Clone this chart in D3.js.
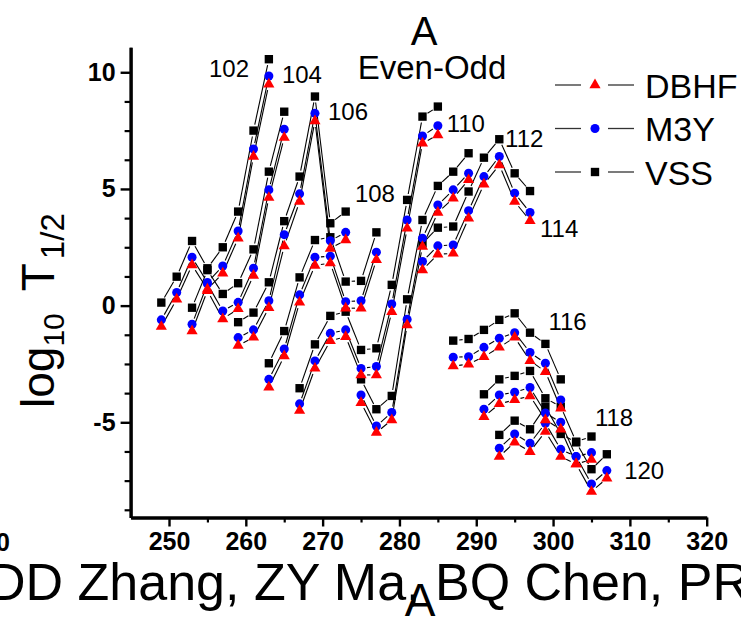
<!DOCTYPE html>
<html>
<head>
<meta charset="utf-8">
<script src="https://cdn.jsdelivr.net/npm/d3@7"></script>
<style>
  body { margin: 0; background: #fff; }
  svg { display: block; font-family: Arial, "Liberation Sans", sans-serif; }
</style>
</head>
<body>
<svg id="chart" width="741" height="620"></svg>
<script>
// Alpha-decay half-lives, log10 T1/2 (s), of even-odd nuclei for three interactions.
// One isotopic chain per proton number; mass numbers run in steps of 2 from firstA.
const protonZ = [102, 104, 106, 108, 110, 112, 114, 116, 118, 120];
const firstA  = [249, 253, 259, 263, 267, 275, 283, 287, 291, 293];

const vss = [
  [0.13, 1.24, 2.77, 1.60, 2.50, 4.03, 7.50, 10.56],
  [-0.09, 1.52, 0.50, 0.96, 2.41, 5.74, 8.31],
  [-0.71, -0.30, 1.00, 3.62, 5.53, 8.96, 3.53, 4.03],
  [-2.47, -1.09, 1.21, 2.81, 2.93, 1.03, 1.06, 3.14],
  [-3.54, -1.66, -0.44, -0.26, -1.90, -1.83, 0.89, 4.53, 8.10, 8.53],
  [-3.16, -4.44, -3.87, 0.27, 3.67, 5.13, 5.74, 6.53],
  [2.67, 3.34, 3.39, 4.89, 6.34, 7.13, 5.67, 4.91],
  [-1.50, -1.43, -1.04, -0.61, -0.33, -1.16, -1.64, -3.16],
  [-3.80, -3.16, -3.01, -2.80, -3.97, -4.33, -5.83, -5.61],
  [-5.54, -4.93, -5.30, -4.33, -5.50, -5.86, -7.01, -6.37]
];
const m3y = [
  [-0.61, 0.56, 2.07, 0.99, 1.70, 3.20, 6.71, 9.84],
  [-0.80, 0.93, -0.23, 0.14, 1.60, 4.96, 7.56],
  [-1.37, -1.04, 0.21, 3.04, 4.79, 8.24, 2.78, 3.14],
  [-3.16, -1.86, 0.46, 2.07, 2.12, 0.17, 0.21, 2.29],
  [-4.21, -2.37, -1.19, -1.04, -2.69, -2.61, 0.07, 3.67, 7.27, 7.71],
  [-3.83, -5.16, -4.58, -0.59, 2.89, 4.31, 4.96, 5.67],
  [1.89, 2.56, 2.60, 4.07, 5.53, 6.39, 4.82, 3.99],
  [-2.21, -2.19, -1.79, -1.40, -1.16, -2.01, -2.47, -4.04],
  [-4.44, -3.83, -3.71, -3.51, -4.60, -5.00, -6.47, -6.30],
  [-6.11, -5.50, -5.90, -5.04, -6.16, -6.47, -7.64, -7.07]
];
const dbhf = [
  [-0.90, 0.27, 1.74, 0.70, 1.39, 2.89, 6.39, 9.49],
  [-1.09, 0.64, -0.57, -0.14, 1.29, 4.63, 7.20],
  [-1.71, -1.36, -0.09, 2.55, 4.46, 7.91, 2.45, 2.81],
  [-3.50, -2.16, 0.14, 1.72, 1.82, -0.11, -0.11, 1.96],
  [-4.50, -2.69, -1.51, -1.33, -2.97, -2.97, -0.26, 3.31, 6.96, 7.31],
  [-4.16, -5.44, -4.90, -0.83, 2.53, 3.99, 4.60, 5.39],
  [1.53, 2.20, 2.24, 3.74, 5.20, 6.03, 4.46, 3.64],
  [-2.59, -2.51, -2.19, -1.79, -1.36, -2.36, -2.83, -4.40],
  [-4.76, -4.21, -4.04, -3.87, -4.90, -5.30, -6.79, -6.60],
  [-6.47, -5.86, -6.26, -5.40, -6.47, -6.79, -7.97, -7.40]
];

const xTicks = [250, 260, 270, 280, 290, 300, 310, 320];
const yTicks = [-5, 0, 5, 10];
const legendNames = ["DBHF", "M3Y", "VSS"];

// Chain labels, anchored (left, baseline) in data units.
const labelAnchorA = [255.2, 264.7, 270.7, 274.2, 286.15, 293.75, 298.3, 299.4, 305.45, 309.25];
const labelAnchorT = [9.80, 9.54, 7.96, 4.44, 7.44, 6.80, 2.94, -1.04, -5.16, -7.43];

const svg = d3.select("#chart");

const x = d3.scaleLinear().domain([245, 320]).range([130.6, 706.7]);
const y = d3.scaleLinear().domain([-9.08, 11.07]).range([517.5, 47.3]);

const styles = {
  VSS:  { shape: d3.symbolSquare,   size: 70, fill: "#000000" },
  M3Y:  { shape: d3.symbolCircle,   size: 64, fill: "#0000ff" },
  DBHF: { shape: d3.symbolTriangle, size: 54, fill: "#ff0000" }
};

const seriesList = [
  { name: "VSS",  values: vss },
  { name: "M3Y",  values: m3y },
  { name: "DBHF", values: dbhf }
];

const tickFont = "Arial, 'Liberation Sans', sans-serif";
const plain = d => String(d);

// ---------- axes ----------
const yMinor = d3.range(-8.75, 11, 1.25).filter(v => yTicks.indexOf(v) < 0);
const xMinor = d3.range(255, 320, 10);

const gy = svg.append("g").attr("transform", `translate(${x(245)},0)`);
gy.call(d3.axisLeft(y).tickValues(yMinor).tickSize(6).tickSizeOuter(0).tickFormat(""));
gy.selectAll(".tick line").attr("stroke-width", 2.2);
const gy2 = svg.append("g").attr("transform", `translate(${x(245)},0)`);
gy2.call(d3.axisLeft(y).tickValues(yTicks).tickSize(10).tickPadding(5).tickSizeOuter(0).tickFormat(plain));
gy2.selectAll(".tick line").attr("stroke-width", 2.4);
gy2.selectAll("text").attr("font-size", 25).attr("font-weight", "bold").attr("font-family", tickFont);

const gx = svg.append("g").attr("transform", `translate(0,${y(-9.08)})`);
gx.call(d3.axisBottom(x).tickValues(xMinor).tickSize(5).tickSizeOuter(0).tickFormat(""));
gx.selectAll(".tick line").attr("stroke-width", 2.2);
const gx2 = svg.append("g").attr("transform", `translate(0,${y(-9.08)})`);
gx2.call(d3.axisBottom(x).tickValues(xTicks).tickSize(9).tickPadding(6).tickSizeOuter(0).tickFormat(plain));
gx2.selectAll(".tick line").attr("stroke-width", 2.4);
gx2.selectAll("text").attr("font-size", 25).attr("font-weight", "bold").attr("font-family", tickFont);

[gx, gx2, gy, gy2].forEach(g => g.select(".domain").attr("stroke-width", 3));

// ---------- connecting lines (with a small gap around each symbol) ----------
const gap = 6;
const lineLayer = svg.append("g").attr("stroke", "#000").attr("stroke-width", 1.1).attr("fill", "none");
seriesList.forEach(s => {
  s.values.forEach((vals, ci) => {
    const pts = vals.map((v, i) => [x(firstA[ci] + 2 * i), y(v)]);
    for (let i = 0; i < pts.length - 1; i++) {
      const [x0, y0] = pts[i], [x1, y1] = pts[i + 1];
      const d = Math.hypot(x1 - x0, y1 - y0);
      if (d <= 2 * gap) continue;
      const ux = (x1 - x0) / d, uy = (y1 - y0) / d;
      lineLayer.append("line")
        .attr("x1", x0 + ux * gap).attr("y1", y0 + uy * gap)
        .attr("x2", x1 - ux * gap).attr("y2", y1 - uy * gap);
    }
  });
});

// ---------- symbols ----------
seriesList.forEach(s => {
  const st = styles[s.name];
  const sym = d3.symbol().type(st.shape).size(st.size);
  const pts = [];
  s.values.forEach((vals, ci) => vals.forEach((v, i) => pts.push({ A: firstA[ci] + 2 * i, v })));
  svg.append("g").selectAll("path").data(pts).join("path")
    .attr("d", sym)
    .attr("transform", d => `translate(${x(d.A)},${y(d.v)})`)
    .attr("fill", st.fill);
});

// ---------- chain labels ----------
svg.append("g").selectAll("text").data(protonZ).join("text")
  .attr("x", (d, i) => x(labelAnchorA[i]))
  .attr("y", (d, i) => y(labelAnchorT[i]))
  .attr("font-size", 24)
  .text(d => d);

// ---------- legend ----------
const legend = svg.append("g");
legendNames.forEach((name, i) => {
  const cy = 85 + i * 43.5;
  const st = styles[name];
  legend.append("line").attr("x1", 555).attr("x2", 581).attr("y1", cy).attr("y2", cy)
    .attr("stroke", "#333").attr("stroke-width", 1.3);
  legend.append("line").attr("x1", 608).attr("x2", 634).attr("y1", cy).attr("y2", cy)
    .attr("stroke", "#333").attr("stroke-width", 1.3);
  legend.append("path").attr("d", d3.symbol().type(st.shape).size(st.size)())
    .attr("transform", `translate(595,${cy})`).attr("fill", st.fill);
  legend.append("text").attr("x", 645).attr("y", cy + 12.5).attr("font-size", 34).text(name);
});

// ---------- titles ----------
svg.append("text").attr("x", 424).attr("y", 45).attr("text-anchor", "middle")
  .attr("font-size", 40).text("A");
svg.append("text").attr("x", 432).attr("y", 79).attr("text-anchor", "middle")
  .attr("font-size", 33).text("Even-Odd");

const yTitle = svg.append("text")
  .attr("transform", "translate(54,408) rotate(-90)")
  .attr("text-anchor", "start").attr("font-size", 46);
yTitle.append("tspan").text("log");
yTitle.append("tspan").attr("font-size", 30).attr("dy", 10).text("10");
yTitle.append("tspan").attr("dy", -10).attr("dx", 22).text("T");
yTitle.append("tspan").attr("font-size", 33).attr("dy", 10).attr("dx", 4).text("1/2");

svg.append("text").attr("x", -12).attr("y", 600).attr("font-size", 52)
  .text("DD Zhang, ZY Ma, BQ Chen, PRC");
svg.append("text").attr("x", 420).attr("y", 616).attr("text-anchor", "middle")
  .attr("font-size", 46).text("A");
svg.append("text").attr("x", 10).attr("y", 551).attr("text-anchor", "end")
  .attr("font-size", 25).attr("font-weight", "bold").text("0");
</script>
</body>
</html>
